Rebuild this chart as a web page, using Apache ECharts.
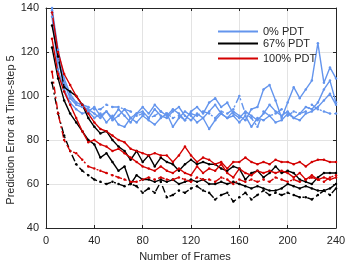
<!DOCTYPE html>
<html><head><meta charset="utf-8">
<script src="https://cdn.jsdelivr.net/npm/echarts@6/dist/echarts.min.js"></script>
<style>html,body{margin:0;padding:0;background:#fff}#c{width:347px;height:263px}</style>
</head><body><div id="c"></div>
<script>
var frames = [5,10,15,20,25,30,35,40,45,50,55,60,65,70,75,80,85,90,95,100,105,110,115,120,125,130,135,140,145,150,155,160,165,170,175,180,185,190,195,200,205,210,215,220,225,230,235,240];
var xTicks = [0,40,80,120,160,200,240];
var yTicks = [40,60,80,100,120,140];
var legendNames = ['0% PDT','67% PDT','100% PDT'];

// 0% PDT (blue)
var blueA = [140,121,108,101,97,96,93,95,91,93,90,94,91,88,92,93,90,94,91,90,93,95,91,89,92,90,93,96,92,90,93,91,89,94,95,103,105,98,90,97,104,99,103,107,124,106,113,108];
var blueB = [138,116,106,99,96,95,94,92,90,93,89,91,94,90,92,95,92,96,93,91,94,92,89,93,95,92,97,99,95,97,92,90,93,91,89,92,96,93,91,93,90,92,95,94,97,103,107,97];
var blueC = [136,112,103,97,94,92,93,90,92,88,91,87,86,90,88,91,89,87,90,92,86,90,93,91,88,90,85,89,92,90,91,88,91,86,90,89,91,88,89,92,90,89,92,93,95,98,101,96];
var blueDash = [139,117,106,100,97,96,95,94,94,96,95,95,94,93,91,92,90,91,93,92,90,91,89,92,91,93,92,90,93,92,94,100,92,90,86,93,91,92,94,91,93,92,93,96,94,93,92,92];
// 67% PDT (black)
var blackA = [132,118,104,102,100,96,90,86,83,84,80,77,75,71,75,70,73,68,72,70,69,66,69,71,69,70,69,69,67,66,68,67,62,65,66,63,65,68,65,66,65,62,61,60,63,65,65,65];
var blackB = [122,108,98,92,88,84,80,78,72,74,70,66,68,60,64,62,62,61,62,61,62,60,61,62,61,62,60,60,61,60,61,60,59,58,59,58,57,57,58,60,59,58,59,58,57,57,58,60];
var blackDash = [106,92,82,75,69,66,64,62,61,60,61,60,59,60,59,56,58,56,61,54,55,57,56,58,59,57,56,53,55,56,52,54,56,53,55,57,55,56,55,56,55,54,54,53,55,57,55,58];
// 100% PDT (red)
var redA = [138,120,110,105,100,96,92,88,85,84,82,80,79,76,75,74,73,74,73,73,70,73,77,73,70,72,71,69,70,67,70,70,72,70,69,70,69,71,70,70,69,70,68,70,71,71,70,70];
var redB = [126,110,102,96,90,84,79,80,78,77,75,76,74,72,70,68,67,66,68,66,65,67,65,64,68,65,67,66,69,65,63,67,65,64,66,65,66,65,66,65,63,65,62,64,62,63,62,63];
var redDash = [111,92,80,75,74,71,68,67,66,65,64,63,62,61,61,62,63,62,63,62,62,63,62,61,63,62,62,61,63,62,60,62,61,62,61,62,61,63,62,61,62,61,62,63,62,61,63,64];

var BLUE = '#6495ed', BLACK = '#000000', RED = '#d40000';
var AX = '#262626', GRID = '#e3e3e3';
var FONT = 'Liberation Sans, Arial, sans-serif';

function pairs(vals){ return frames.map(function(f,i){ return [f, vals[i]]; }); }
function mk(name, vals, color, dashed){
  return {
    type:'line', name:name, data:pairs(vals),
    symbol:'circle', symbolSize:2.5, showSymbol:true,
    itemStyle:{color:color},
    lineStyle:{color:color, width:1.4, type: dashed ? [7,3,2,3] : 'solid'},
    emphasis:{disabled:true}, animation:false, z:2
  };
}

var series = [
  mk(legendNames[0], blueA, BLUE, false),
  mk(legendNames[0], blueB, BLUE, false),
  mk(legendNames[0], blueC, BLUE, false),
  mk(legendNames[0], blueDash, BLUE, true),
  mk(legendNames[1], blackA, BLACK, false),
  mk(legendNames[1], blackB, BLACK, false),
  mk(legendNames[1], blackDash, BLACK, true),
  mk(legendNames[2], redA, RED, false),
  mk(legendNames[2], redB, RED, false),
  mk(legendNames[2], redDash, RED, true)
];

function leg(name, top){
  return {
    data:[name], left:218, top:top, orient:'vertical',
    icon:'rect', itemWidth:40, itemHeight:1.8, itemGap:0, padding:0,
    selectedMode:false,
    textStyle:{fontFamily:FONT, fontSize:11, color:AX, padding:[0,0,0,0]}
  };
}

var chart = echarts.init(document.getElementById('c'), null, {renderer:'canvas'});
chart.setOption({
  animation:false,
  backgroundColor:'#ffffff',
  grid:{left:46, right:11, top:8, bottom:35, containLabel:false, outerBoundsMode:'none'},
  legend:[leg(legendNames[0], 26), leg(legendNames[1], 38), leg(legendNames[2], 53)],
  xAxis:[{
    type:'value', min:xTicks[0], max:xTicks[xTicks.length-1], interval:40,
    name:'Number of Frames', nameLocation:'middle', nameGap:23, nameMoveOverlap:false,
    nameTextStyle:{fontFamily:FONT, fontSize:11, color:AX, padding:[0,12,0,0]},
    axisLine:{show:true, onZero:false, lineStyle:{color:AX, width:1}},
    axisTick:{show:true, inside:true, length:3, lineStyle:{color:AX}},
    axisLabel:{fontFamily:FONT, fontSize:11, color:AX, margin:7},
    splitLine:{show:true, lineStyle:{color:GRID, width:1}}
  },{
    type:'value', position:'top', min:xTicks[0], max:xTicks[xTicks.length-1], interval:40,
    axisLine:{show:true, onZero:false, lineStyle:{color:AX, width:1}},
    axisTick:{show:true, inside:true, length:3, lineStyle:{color:AX}},
    axisLabel:{show:false}, splitLine:{show:false}
  }],
  yAxis:[{
    type:'value', min:yTicks[0], max:yTicks[yTicks.length-1], interval:20,
    name:'Prediction Error at Time-step 5', nameLocation:'middle', nameGap:30, nameMoveOverlap:false,
    nameTextStyle:{fontFamily:FONT, fontSize:11, color:AX, padding:[0,24,0,0]},
    axisLine:{show:true, onZero:false, lineStyle:{color:AX, width:1}},
    axisTick:{show:true, inside:true, length:3, lineStyle:{color:AX}},
    axisLabel:{fontFamily:FONT, fontSize:11, color:AX, margin:7},
    splitLine:{show:true, lineStyle:{color:GRID, width:1}}
  },{
    type:'value', position:'right', min:yTicks[0], max:yTicks[yTicks.length-1], interval:20,
    axisLine:{show:true, onZero:false, lineStyle:{color:AX, width:1}},
    axisTick:{show:true, inside:true, length:3, lineStyle:{color:AX}},
    axisLabel:{show:false}, splitLine:{show:false}
  }],
  series:series
});
</script>
</body></html>
